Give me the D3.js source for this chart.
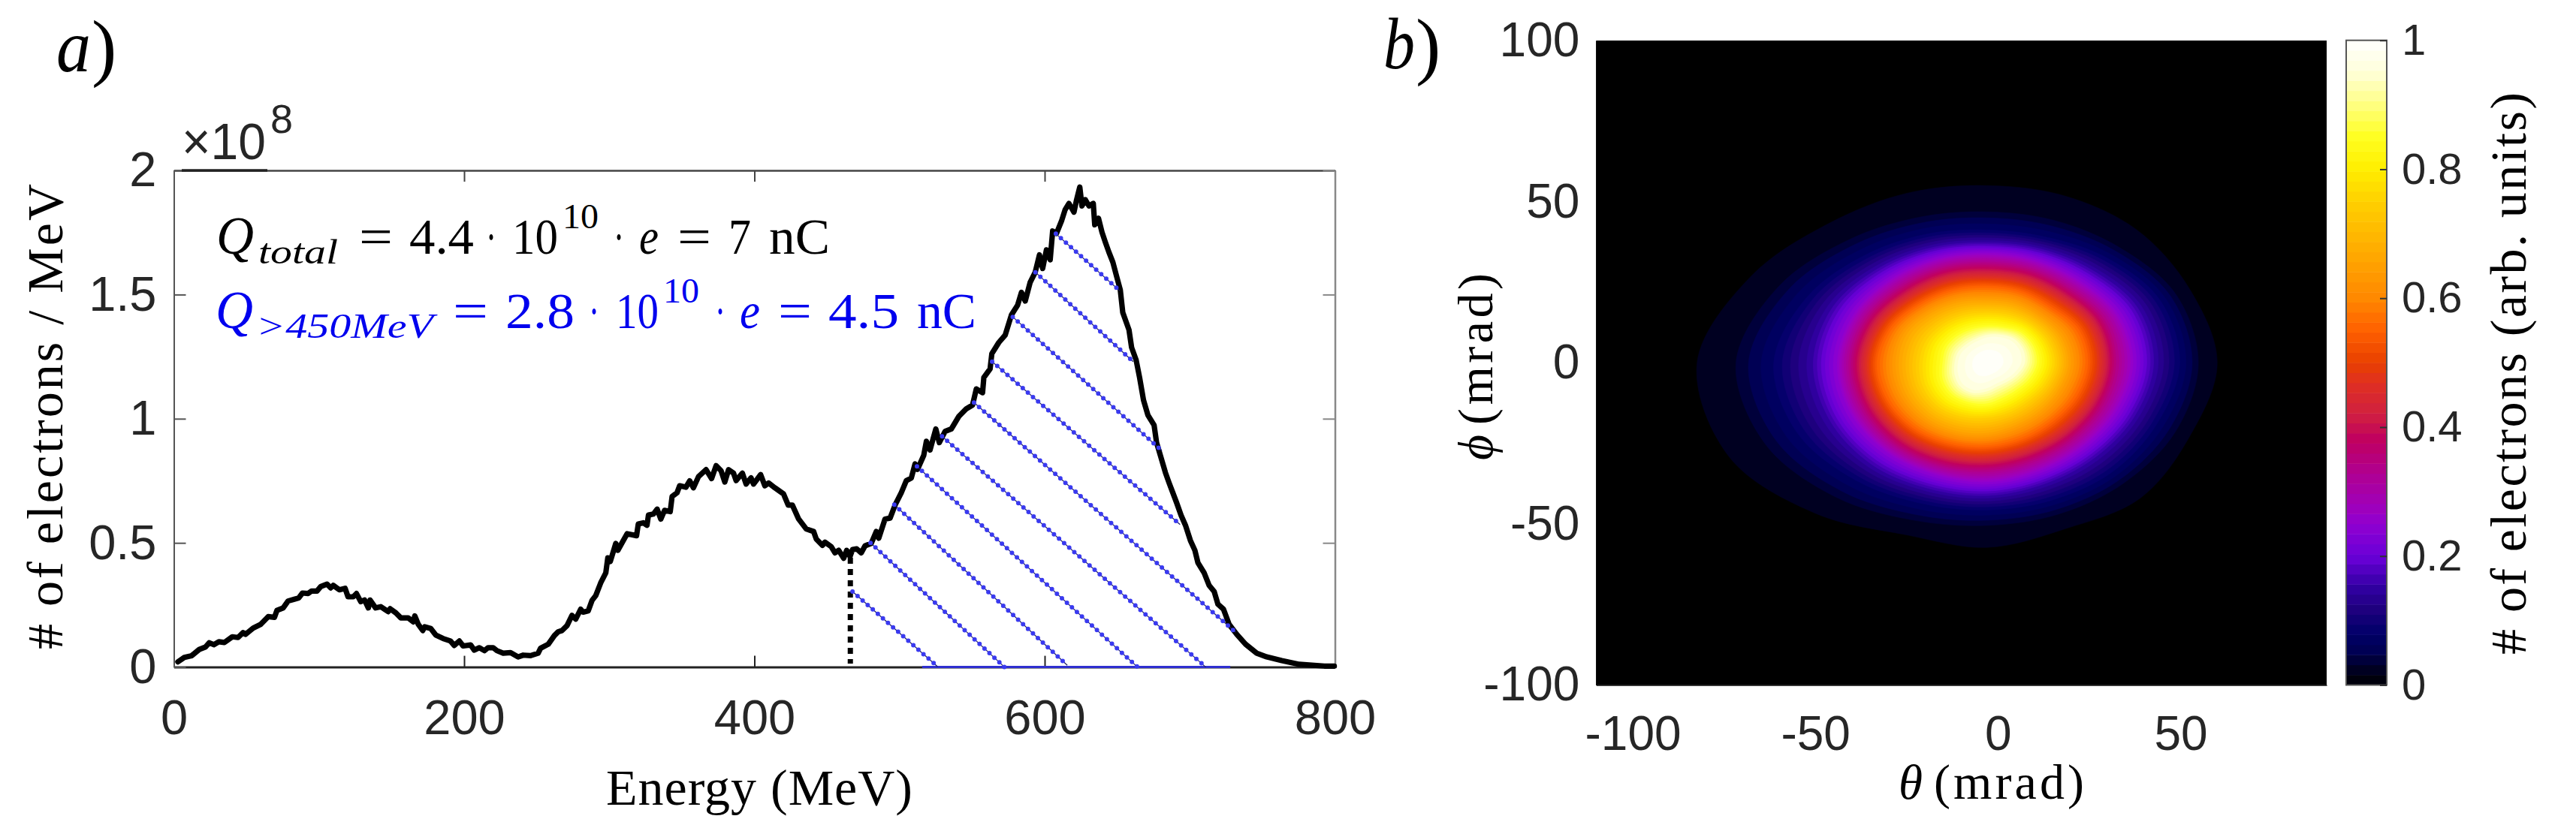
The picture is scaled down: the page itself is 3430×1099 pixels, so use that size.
<!DOCTYPE html>
<html>
<head>
<meta charset="utf-8">
<script src="https://cdn.jsdelivr.net/npm/d3@7"></script>
<style>
html,body{margin:0;padding:0;background:#fff}
svg{display:block}
.tick text{font-family:"Liberation Sans",Arial,sans-serif;fill:#262626}
.math{font-family:"Liberation Serif",serif}
</style>
</head>
<body>
<svg id="chart" width="3430" height="1099"></svg>
<script>
// ---- panel a data ----
const energyMeV = [2.8,7.2,12.3,17.5,21.8,24.4,27.5,31,34.8,40.3,44.2,47.7,49.4,54.6,59.8,65,69.3,71,75.3,78.7,83,86,88.6,92.5,94.8,98.6,101.2,105.5,108,109.8,114,118,120,123.6,125.8,128.8,131.4,134,135.2,139,142.6,147.7,149,153,156.4,161.5,165,166,168.4,171.5,172.8,177,180.5,185.5,190.6,193.2,196.7,199.3,204.5,207,210.5,214,216.5,220,222.6,226.9,232,237.2,240.7,245.8,251,252.7,258,262.2,264.8,267.4,270.9,274.3,276.9,280.3,282,285.5,288.1,290.7,294.1,297.6,299,300.7,304.5,305.9,312.3,318.8,320,323.5,326,327,330.4,333,335.5,338.1,342,343.3,346.7,348.5,352.8,355.4,358,361.5,366.7,370.5,373.6,377,379.6,382.2,385.6,387.4,391.7,394.3,397.7,399.4,404.3,407.2,409.8,414.1,420.1,423.3,426.2,430.5,435.7,440.8,442.6,446.9,448.6,452.9,455.5,458.1,461.5,463.6,465.9,467.6,470.5,473.6,476.2,480.5,484,485.7,490,493.5,496.9,501.2,504.7,508.1,510.7,512.4,516.7,518.5,521,525,527.4,531.4,535.7,540.8,546,550.3,552.9,557.2,558.1,562.4,563.6,568.4,572.8,577.1,581.4,584,586.6,590,593.5,596.4,598.6,601.2,603.8,605.5,608.1,611.6,614.1,616.7,620.2,622,624.2,625.7,628,630.5,633.5,634.5,637.1,639.5,641.8,644.3,647,649.5,652.1,653.8,658.1,659.9,663,665.4,668.1,671.1,675.4,677.1,679.7,683.2,685.7,688.3,690.9,694,697,700.4,703.5,705.6,709.9,713.3,716.8,719.4,723.2,727.1,732.3,738.4,746.1,753,763.4,775.4,792.7,799.6];
const electronsE8 = [.021,.039,.046,.071,.081,.098,.09,.102,.099,.122,.119,.139,.132,.157,.172,.203,.2,.228,.238,.266,.273,.278,.298,.296,.306,.306,.324,.334,.319,.329,.311,.317,.283,.283,.296,.263,.27,.238,.27,.238,.243,.223,.235,.218,.198,.198,.182,.206,.172,.147,.162,.155,.129,.115,.105,.087,.105,.085,.089,.068,.078,.066,.078,.078,.066,.056,.058,.041,.048,.046,.056,.076,.092,.127,.142,.147,.167,.208,.193,.233,.221,.226,.268,.288,.339,.379,.44,.425,.498,.47,.537,.529,.576,.581,.571,.612,.616,.636,.596,.631,.626,.687,.702,.73,.724,.75,.722,.767,.795,.759,.811,.791,.745,.795,.781,.751,.781,.737,.762,.737,.775,.73,.741,.722,.697,.652,.652,.596,.556,.546,.516,.49,.503,.485,.46,.47,.438,.47,.445,.473,.476,.46,.488,.498,.546,.519,.596,.6,.652,.702,.751,.761,.818,.796,.853,.909,.874,.959,.904,.949,.959,1.009,1.04,1.055,1.12,1.105,1.166,1.201,1.262,1.307,1.337,1.418,1.458,1.509,1.474,1.549,1.59,1.66,1.605,1.68,1.64,1.756,1.746,1.796,1.842,1.867,1.832,1.882,1.933,1.857,1.882,1.857,1.867,1.781,1.807,1.751,1.711,1.67,1.63,1.575,1.519,1.428,1.358,1.287,1.237,1.166,1.075,1.015,.974,.904,.853,.783,.742,.702,.662,.611,.571,.51,.47,.42,.379,.329,.304,.253,.233,.172,.132,.092,.056,.041,.026,.011,.004,.004];
// hatch segments: start energy, start value, end energy, end value
const hatchStartE = [467.6,480,496.4,512,529.3,551.3,563.8,578,593.6,607.7];
const hatchStartV = [.304,.5,.654,.808,.929,1.065,1.23,1.41,1.59,1.745];
const hatchEndE   = [526.2,572.3,615.6,664,711,731.6,693.3,680.8,661,651.6];
const hatchEndV   = [.002,0,.007,0,0,.14,.574,.871,1.23,1.516];
const cutEnergy = 466.1, cutTop = .44, cutBottom = .014;
const baseBlueE = [515.6,727.9];
const xTicksA = [0,200,400,600,800];
const yTicksA = [0,.5,1,1.5,2];

// ---- panel b data ----
const xTicksB = [-100,-50,0,50];
const yTicksB = [-100,-50,0,50,100];
const cbTicks = [0,.2,.4,.6,.8,1];
const beamCentre = [-3,0];
const ringAngles = [0,22.5,45,67.5,90,112.5,135,157.5,180,202.5,225,247.5,270,292.5,315,337.5];
const ringLevels = [.012,.03,.08,.15,.25,.35,.45,.55,.65,.75,.85,.95,1];
const ring012 = [64.3,61,60,58,57,59,63,72,82,79,68,59,59,57,61,61];
const ring030 = [58,56,51,48,47,49,54,62,69,66,59,53,50.6,51,53,56];
const ring080 = [52.6,51,46,42,41,43,47,53,58,56,51,47,45.5,46,48,50];
const ring150 = [46,45,41,38.5,37.5,39,42,46,48,47,45,42.5,41.5,41,42,44];
const ring250 = [40,39,36,34.5,34,35,37,39.5,41,40.5,39,37.5,37,36.5,37,38.5];
const ring350 = [35,34.5,32,31,30.5,31.5,33,35.5,37,36.5,35.5,34,33,32.5,33,34];
const ring450 = [31.5,31,28.5,27.5,27,28,29.5,32,33.5,33,32,30.5,29.5,29,29.5,30.5];
const ring550 = [27.5,27,24.5,24,23.7,24.5,26,28.5,30,29.5,28.5,27,26,25.5,25.5,26.5];
const ring650 = [22.5,22,20.5,20,19.5,20.5,22,24,24.5,24.5,24,23,22,21,21,21.5];
const ring750 = [18.5,18,17,16,15.5,16,17,18,18.5,19,19,18,17,16.5,16.5,17.5];
const ring850 = [14,14,13.5,12,11.4,11.5,12,12.5,12.5,13.5,14,13.5,13,12,12,13];
const ring950 = [9.8,10.2,10,9,8.2,7.5,7.5,8,8.3,9,9.8,9.6,8.2,7.2,7.5,8.5];
const ring999 = [2,2,2,2,2,2,2,2,2,2,2,2,2,2,2,2];
const ringTable = [ring012,ring030,ring080,ring150,ring250,ring350,ring450,ring550,ring650,ring750,ring850,ring950,ring999];
const cmapStops = [0,.012,.03,.05,.08,.12,.15,.2,.25,.28,.33,.38,.42,.47,.5,.55,.6,.7,.75,.8,.85,.9,.95,1];
const cmapColours = ["#000000","#000012","#00002a","#000050","#000068","#200080","#3000a0","#6a00d8","#9000d0","#a000b8","#b00090","#c00060","#d02040","#e03020","#e84000","#ff6000","#ff8800","#ffb800","#ffd000","#ffee00","#ffff20","#ffff80","#ffffd8","#ffffff"];
const cmapSteps = 64;

// ---- layout ----
const A = {l:231.5,r:1777.5,t:227,b:888.6};
const B = {l:2125.4,r:3098,t:54,b:912.5};
const C = {l:3124,r:3178,t:53.7,b:912.5};
const tickFont = 65, ink = "#262626";
const svg = d3.select("#chart");

// ---- panel a ----
const xA = d3.scaleLinear().domain([0,800]).range([A.l,A.r]);
const yA = d3.scaleLinear().domain([0,2]).range([A.b,A.t]);
const fmtY = d=> String(d);

function styleAxis(g,col,w,fs){
  g.selectAll(".domain").attr("stroke",col).attr("stroke-width",w);
  g.selectAll(".tick line").attr("stroke",col).attr("stroke-width",2);
  g.selectAll(".tick text").attr("font-size",fs);
}
const gA = svg.append("g");
gA.append("g").attr("transform",`translate(0,${A.b})`)
  .call(d3.axisBottom(xA).tickValues(xTicksA).tickSize(-15).tickSizeOuter(0).tickPadding(43))
  .call(styleAxis,"#222",3,tickFont);
gA.append("g").attr("transform",`translate(0,${A.t})`)
  .call(d3.axisTop(xA).tickValues(xTicksA).tickSize(-15).tickSizeOuter(0).tickFormat(""))
  .call(styleAxis,"#444",2.5,0);
gA.append("g").attr("transform",`translate(${A.l},0)`)
  .call(d3.axisLeft(yA).tickValues(yTicksA).tickSize(-16).tickSizeOuter(0).tickPadding(23).tickFormat(fmtY))
  .call(styleAxis,"#555",2,tickFont);
gA.append("g").attr("transform",`translate(${A.r},0)`)
  .call(d3.axisRight(yA).tickValues(yTicksA).tickSize(-16).tickSizeOuter(0).tickFormat(""))
  .call(styleAxis,"#888",2.5,0);
// heavier stretch of the top rule under the exponent
svg.append("line").attr("x1",242).attr("x2",356).attr("y1",A.t).attr("y2",A.t).attr("stroke","#222").attr("stroke-width",3.5);

// blue baseline, hatch, cut marker, curve
svg.append("line").attr("x1",xA(baseBlueE[0])).attr("x2",xA(baseBlueE[1])).attr("y1",yA(0)).attr("y2",yA(0))
  .attr("stroke","#2f2fd0").attr("stroke-width",3);
svg.append("line").attr("x1",xA(cutEnergy)).attr("x2",xA(cutEnergy)).attr("y1",yA(cutTop)).attr("y2",yA(cutBottom))
  .attr("stroke","#000").attr("stroke-width",7).attr("stroke-dasharray","8 7");
const curve = d3.line().x((d,i)=>xA(energyMeV[i])).y((d,i)=>yA(electronsE8[i]));
svg.append("path").attr("d",curve(energyMeV)).attr("fill","none").attr("stroke","#000")
  .attr("stroke-width",7.2).attr("stroke-linejoin","round").attr("stroke-linecap","round");
const hatch = svg.append("g");
hatchStartE.forEach((e,i)=>{
  const a=[xA(e),yA(hatchStartV[i]),xA(hatchEndE[i]),yA(hatchEndV[i])];
  hatch.append("line").attr("x1",a[0]).attr("y1",a[1]).attr("x2",a[2]).attr("y2",a[3])
    .attr("stroke","#1a1a66").attr("stroke-width",1.2);
  hatch.append("line").attr("x1",a[0]).attr("y1",a[1]).attr("x2",a[2]).attr("y2",a[3])
    .attr("stroke","#3a3af0").attr("stroke-width",6).attr("stroke-linecap","round").attr("stroke-dasharray","0 9");
});

// math labels
function mathText(x,y,txt,size,width,opts){
  opts=opts||{};
  const t=svg.append("text").attr("class","math").attr("x",x).attr("y",y).attr("font-size",size)
    .attr("fill",opts.fill||"#000").attr("font-style",opts.italic?"italic":"normal").text(txt);
  if(width){t.attr("textLength",width).attr("lengthAdjust","spacingAndGlyphs");}
  return t;
}
const line1Text = ["Q","total","=","4.4","·","10","10","·","e","=","7","nC"];
const line1X = [288,344,478,545,647,682,749,817,851,902,970,1024];
const line1W = [50,106,45,86,14,61,48,14,26,45,30,81];
const line2Text = ["Q",">450MeV","=","2.8","·","10","10","·","e","=","4.5","nC"];
const line2X = [287,341,603,673,784,820,883,952,985,1036,1103,1221];
const line2W = [50,236,47,92,14,57,48,14,27,45,94,79];
const lineStyle = [[72,1,0],[46,1,13],[68,0,0],[68,0,0],[68,0,0],[68,0,0],[46,0,-34],[68,0,0],[68,1,0],[68,0,0],[68,0,0],[68,0,0]];
function formula(texts,xs,ws,base,fill){
  texts.forEach((s,i)=>{
    const st=lineStyle[i];
    mathText(xs[i],base+st[2],s,st[0],ws[i],{fill:fill,italic:!!st[1]});
  });
}
formula(line1Text,line1X,line1W,338,"#000");
formula(line2Text,line2X,line2W,437,"#0000ee");

mathText(75,95,"a",100,46,{italic:true});
mathText(122,96,")",100);
mathText(1842,91,"b",98,42,{italic:true});
mathText(1885,94,")",100);

// exponent
svg.append("text").attr("x",242).attr("y",212).attr("font-family","Liberation Sans").attr("font-size",68)
  .attr("textLength",112).attr("lengthAdjust","spacingAndGlyphs").attr("fill",ink).text("×10");
svg.append("text").attr("x",360).attr("y",177).attr("font-family","Liberation Sans").attr("font-size",54).attr("fill",ink).text("8");

function rotText(x,yc,len,size,txt){
  svg.append("text").attr("class","math").attr("transform",`translate(${x},${yc}) rotate(-90)`)
    .attr("text-anchor","middle").attr("font-size",size).attr("textLength",len).attr("lengthAdjust","spacing").text(txt);
}
rotText(83,555,620,68,"# of electrons / MeV");
svg.append("text").attr("class","math").attr("x",807).attr("y",1072).attr("font-size",68)
  .attr("textLength",408).attr("lengthAdjust","spacing").text("Energy (MeV)");

// ---- panel b ----
const xB = d3.scaleLinear().domain([-110,90]).range([B.l,B.r]);
const yB = d3.scaleLinear().domain([-100,100]).range([B.b,B.t]);
const cmap = d3.scaleLinear().domain(cmapStops).range(cmapColours).interpolate(d3.interpolateRgb);
const stepColour = k => cmap((k+.5)/cmapSteps);

svg.append("rect").attr("x",B.l).attr("y",B.t).attr("width",B.r-B.l).attr("height",B.b-B.t).attr("fill","#000");
const ring = d3.line().x(d=>xB(d[0])).y(d=>yB(d[1])).curve(d3.curveCatmullRomClosed.alpha(.5));
const radiusAt = ringAngles.map((a,j)=>d3.scaleLinear().domain(ringLevels).range(ringTable.map(r=>r[j])).clamp(true));
const bands = svg.append("g");
for(let k=1;k<cmapSteps;k++){
  const lev=k/cmapSteps;
  const pts=ringAngles.map((a,j)=>{
    const r=radiusAt[j](lev), t=a*Math.PI/180;
    return [beamCentre[0]+r*Math.cos(t),beamCentre[1]+r*Math.sin(t)];
  });
  bands.append("path").attr("d",ring(pts)).attr("fill",stepColour(k)).attr("stroke",stepColour(k)).attr("stroke-width",.6);
}
const gB = svg.append("g");
gB.append("g").attr("transform",`translate(0,${B.b})`)
  .call(d3.axisBottom(xB).tickValues(xTicksB).tickSize(0).tickSizeOuter(0).tickPadding(41).tickFormat(d=>String(d)))
  .call(styleAxis,"#000",1.5,64);
gB.append("g").attr("transform",`translate(${B.l},0)`)
  .call(d3.axisLeft(yB).tickValues(yTicksB).tickSize(0).tickSizeOuter(0).tickPadding(22).tickFormat(d=>String(d)))
  .call(styleAxis,"#000",1.5,64);

// axis labels with a Greek symbol set as two separate texts
svg.append("text").attr("class","math").attr("transform","translate(1987,613) rotate(-90)")
  .attr("font-size",66).attr("font-style","italic").attr("textLength",34).attr("lengthAdjust","spacingAndGlyphs").text("ϕ");
svg.append("text").attr("class","math").attr("transform","translate(1987,566) rotate(-90)")
  .attr("font-size",66).attr("textLength",202).attr("lengthAdjust","spacing").text("(mrad)");
svg.append("text").attr("class","math").attr("x",2528).attr("y",1064).attr("font-size",66)
  .attr("font-style","italic").attr("textLength",32).attr("lengthAdjust","spacingAndGlyphs").text("θ");
svg.append("text").attr("class","math").attr("x",2575).attr("y",1064).attr("font-size",66)
  .attr("textLength",200).attr("lengthAdjust","spacing").text("(mrad)");

// colour bar
const yC = d3.scaleLinear().domain([0,1]).range([C.b,C.t]);
const cbar = svg.append("g");
d3.range(cmapSteps).forEach(k=>{
  cbar.append("rect").attr("x",C.l).attr("width",C.r-C.l)
    .attr("y",yC((k+1)/cmapSteps)).attr("height",yC(k/cmapSteps)-yC((k+1)/cmapSteps)+.5)
    .attr("fill",stepColour(k));
});
svg.append("rect").attr("x",C.l).attr("y",C.t).attr("width",C.r-C.l).attr("height",C.b-C.t)
  .attr("fill","none").attr("stroke","#555").attr("stroke-width",2);
const gC = svg.append("g").attr("transform",`translate(${C.r},0)`)
  .call(d3.axisRight(yC).tickValues(cbTicks).tickSize(-9).tickSizeOuter(0).tickPadding(20).tickFormat(d=>String(d)))
  .call(styleAxis,"#333",1.5,58);
gC.select(".domain").remove();
rotText(3363,497.5,749,68,"# of electrons (arb. units)");
</script>
</body>
</html>
